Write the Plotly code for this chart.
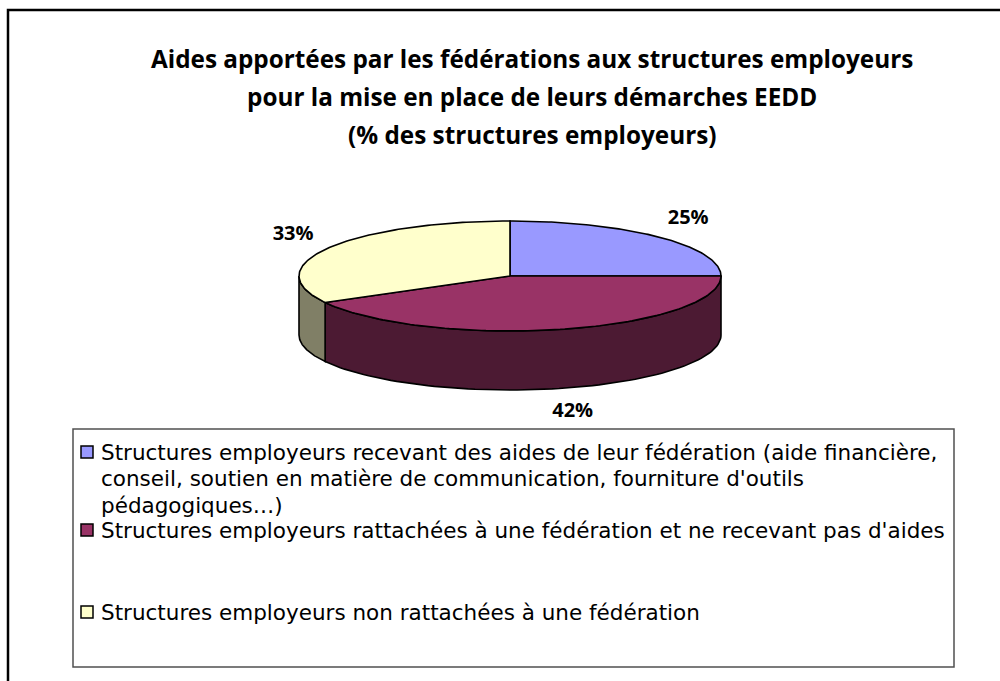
import numpy as np
import plotly.graph_objects as go

# ---------------- data ----------------
categories = [
    ["Structures employeurs recevant des aides de leur fédération (aide financière,",
     "conseil, soutien en matière de communication, fourniture d'outils",
     "pédagogiques…)"],
    ["Structures employeurs rattachées à une fédération et ne recevant pas d'aides"],
    ["Structures employeurs non rattachées à une fédération"],
]
values = [25, 42, 33]
top_colors = ["#9999FF", "#993366", "#FFFFCC"]
side_colors = ["#4D4D80", "#4C1A33", "#807F66"]
title_lines = [
    "Aides apportées par les fédérations aux structures employeurs",
    "pour la mise en place de leurs démarches EEDD",
    "(% des structures employeurs)",
]

# ---------------- geometry (pixel-like coordinate system) ----------------
W, H = 1000, 681
CX, CY = 510, 276        # centre of top ellipse
RX, RY = 211, 55         # radii of top ellipse
DEPTH = 59               # thickness of the 3D pie
LRX, LRY = 252, 80       # label ellipse
FONT = "Open Sans"
LEG_FONT = "DejaVu Sans"

total = float(sum(values))
fig = go.Figure()

def ex(t):
    return CX + RX * np.cos(np.radians(t))

def ey(t):
    return CY - RY * np.sin(np.radians(t))

bounds = []
cum = 0.0
for v in values:
    a0 = 90 - 360 * cum / total
    cum += v
    a1 = 90 - 360 * cum / total
    bounds.append((a0, a1))

# side walls (front, visible half: angles in [-180, 0])
for i, (a0, a1) in enumerate(bounds):
    lo, hi = max(a1, -180), min(a0, 0)
    if hi <= lo:
        continue
    t = np.linspace(hi, lo, 80)
    xs = np.concatenate([ex(t), ex(t[::-1]), [ex(t[0])]])
    ys = np.concatenate([ey(t), ey(t[::-1]) + DEPTH, [ey(t[0])]])
    fig.add_trace(go.Scatter(x=xs, y=ys, mode="lines", fill="toself",
                             fillcolor=side_colors[i],
                             line=dict(color="black", width=1.6),
                             hoverinfo="skip", showlegend=False))

# top faces
for i, (a0, a1) in enumerate(bounds):
    t = np.linspace(a0, a1, 120)
    xs = np.concatenate([[CX], ex(t), [CX]])
    ys = np.concatenate([[CY], ey(t), [CY]])
    fig.add_trace(go.Scatter(x=xs, y=ys, mode="lines", fill="toself",
                             fillcolor=top_colors[i],
                             line=dict(color="black", width=1.6),
                             hoverinfo="skip", showlegend=False))

# percentage labels
lx, ly, lt = [], [], []
for v, (a0, a1) in zip(values, bounds):
    m = np.radians((a0 + a1) / 2)
    lx.append(CX + LRX * np.cos(m))
    yy = CY - LRY * np.sin(m)
    if np.sin(m) < 0:
        yy += DEPTH
    ly.append(yy)
    lt.append(f"{v}%")
fig.add_trace(go.Scatter(x=lx, y=ly, mode="text", text=lt,
                         textfont=dict(family=FONT, size=20, color="black", weight="bold"),
                         hoverinfo="skip", showlegend=False))

# title
for k, line in enumerate(title_lines):
    fig.add_annotation(x=532, y=58 + 38 * k, text=line, showarrow=False,
                       xref="x", yref="y", xanchor="center", yanchor="middle",
                       font=dict(family=FONT, size=24.3, color="black", weight="bold"))

# outer frame and legend box
fig.add_shape(type="rect", x0=8, y0=10, x1=1020, y1=700, xref="x", yref="y",
              line=dict(color="black", width=2.5), fillcolor="rgba(0,0,0,0)")
fig.add_shape(type="rect", x0=73, y0=429, x1=954, y1=667, xref="x", yref="y",
              line=dict(color="#505050", width=1.5), fillcolor="rgba(0,0,0,0)")

# legend entries
entry_y = [452, 530, 612]
line_gap = 26.5
for i, lines in enumerate(categories):
    y0 = entry_y[i]
    fig.add_shape(type="rect", x0=81, x1=93, y0=y0 - 6, y1=y0 + 6, xref="x", yref="y",
                  line=dict(color="black", width=1.5), fillcolor=top_colors[i])
    for k, line in enumerate(lines):
        fig.add_annotation(x=99, y=y0 + line_gap * k, text=line, showarrow=False,
                           xref="x", yref="y", xanchor="left", yanchor="middle",
                           font=dict(family=LEG_FONT, size=21.5, color="black"))

fig.update_xaxes(range=[0, W], visible=False, fixedrange=True)
fig.update_yaxes(range=[H, 0], visible=False, fixedrange=True)
fig.update_layout(width=W, height=H, margin=dict(l=0, r=0, t=0, b=0),
                  paper_bgcolor="white", plot_bgcolor="white", autosize=False)

fig.write_html("out.html", config={"displayModeBar": False},
               post_script="document.body.style.margin='0';")
